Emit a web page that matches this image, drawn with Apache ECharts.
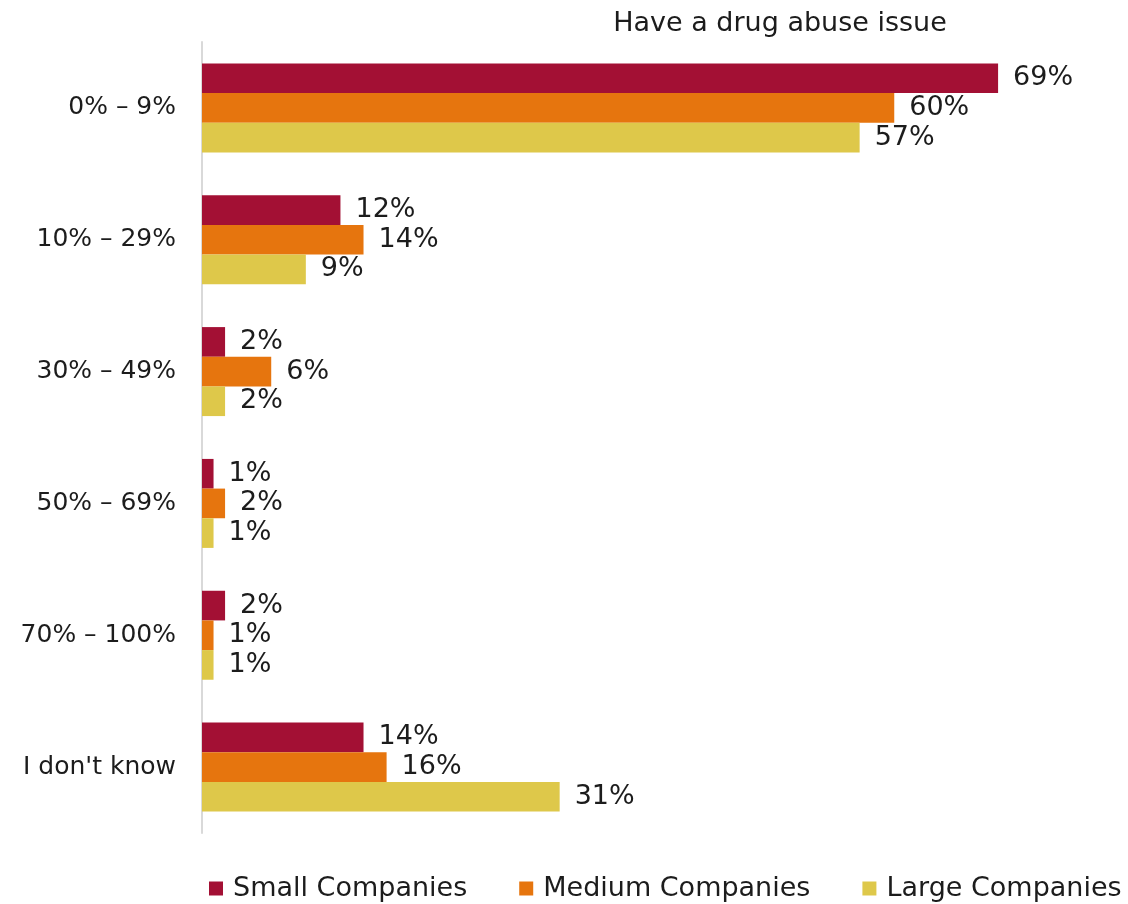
<!DOCTYPE html>
<html>
<head>
<meta charset="utf-8">
<script src="https://cdn.jsdelivr.net/npm/echarts@6/dist/echarts.min.js"></script>
<style>
  html, body { margin: 0; padding: 0; background: #fff; }
  #chart { width: 1128px; height: 904px; }
</style>
</head>
<body>
<div id="chart"></div>
<script>
// Share of employees per company size band
const chartTitle = 'Have a drug abuse issue';
const categories = ['0% – 9%', '10% – 29%', '30% – 49%', '50% – 69%', '70% – 100%', "I don't know"];
const seriesNames = ['Small Companies', 'Medium Companies', 'Large Companies'];
const smallValues = [69, 12, 2, 1, 2, 14];
const mediumValues = [60, 14, 6, 2, 1, 16];
const largeValues = [57, 9, 2, 1, 1, 31];
const colors = ['#A31034', '#E6750E', '#DEC84A'];

const FONT = 'DejaVu Sans';
const TEXT = '#1c1c1c';

const chart = echarts.init(document.getElementById('chart'));

const makeSeries = (name, data, color) => ({
  name,
  type: 'bar',
  data,
  barGap: '0%',
  barCategoryGap: '32.5%',
  itemStyle: { color },
  label: {
    show: true,
    position: 'right',
    distance: 15,
    formatter: '{c}%',
    color: TEXT,
    fontFamily: FONT,
    fontSize: 27
  },
  emphasis: { disabled: true },
  animation: false
});

chart.setOption({
  backgroundColor: '#fff',
  title: {
    text: chartTitle,
    left: 775,
    top: 5,
    textAlign: 'center',
    textStyle: { fontFamily: FONT, fontSize: 27, fontWeight: 'normal', color: TEXT }
  },
  legend: {
    data: seriesNames,
    left: 204,
    top: 870,
    icon: 'rect',
    itemWidth: 14,
    itemHeight: 14,
    itemGap: 52,
    textStyle: { fontFamily: FONT, fontSize: 27, color: TEXT, padding: [0, 0, 0, 5] }
  },
  grid: { left: 202, right: 3, top: 42, bottom: 71 },
  xAxis: {
    type: 'value',
    min: 0,
    max: 80,
    show: false
  },
  yAxis: {
    type: 'category',
    data: categories,
    inverse: true,
    axisLine: { show: true, lineStyle: { color: '#d9d9d9', width: 2 } },
    axisTick: { show: false },
    axisLabel: { margin: 26, fontFamily: FONT, fontSize: 25, color: TEXT }
  },
  series: [
    makeSeries(seriesNames[0], smallValues, colors[0]),
    makeSeries(seriesNames[1], mediumValues, colors[1]),
    makeSeries(seriesNames[2], largeValues, colors[2])
  ]
});
</script>
</body>
</html>
